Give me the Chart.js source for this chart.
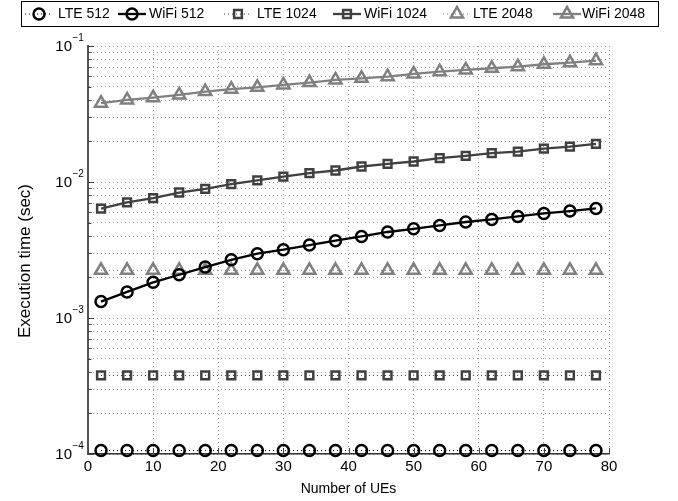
<!DOCTYPE html>
<html>
<head>
<meta charset="utf-8">
<script src="https://cdn.jsdelivr.net/npm/chart.js@4.4.1/dist/chart.umd.min.js"></script>
<style>
  html, body { margin: 0; padding: 0; background: #fff; }
  #wrap { width: 678px; height: 501px; }
</style>
</head>
<body>
<div id="wrap"><canvas id="grafico" width="678" height="501"></canvas></div>
<script>
// numero de UEs (eje x)
var ues = [2, 6, 10, 14, 18, 22, 26, 30, 34, 38, 42, 46, 50, 54, 58, 62, 66, 70, 74, 78];

// tiempos de ejecucion (sec)
var lte512 = [1.06e-4, 1.06e-4, 1.06e-4, 1.06e-4, 1.06e-4, 1.06e-4, 1.06e-4, 1.06e-4, 1.06e-4, 1.06e-4,
              1.06e-4, 1.06e-4, 1.06e-4, 1.06e-4, 1.06e-4, 1.06e-4, 1.06e-4, 1.06e-4, 1.06e-4, 1.06e-4];
var wifi512 = [1.32e-3, 1.555e-3, 1.83e-3, 2.08e-3, 2.37e-3, 2.68e-3, 2.97e-3, 3.18e-3, 3.44e-3, 3.70e-3,
               3.98e-3, 4.29e-3, 4.53e-3, 4.79e-3, 5.08e-3, 5.31e-3, 5.58e-3, 5.87e-3, 6.11e-3, 6.39e-3];
var lte1024 = [3.78e-4, 3.78e-4, 3.78e-4, 3.78e-4, 3.78e-4, 3.78e-4, 3.78e-4, 3.78e-4, 3.78e-4, 3.78e-4,
               3.78e-4, 3.78e-4, 3.78e-4, 3.78e-4, 3.78e-4, 3.78e-4, 3.78e-4, 3.78e-4, 3.78e-4, 3.78e-4];
var wifi1024 = [6.36e-3, 7.07e-3, 7.61e-3, 8.37e-3, 8.91e-3, 9.65e-3, 1.026e-2, 1.097e-2, 1.162e-2, 1.215e-2,
                1.30e-2, 1.36e-2, 1.415e-2, 1.50e-2, 1.556e-2, 1.63e-2, 1.675e-2, 1.76e-2, 1.82e-2, 1.91e-2];
var lte2048 = [2.24e-3, 2.24e-3, 2.24e-3, 2.24e-3, 2.24e-3, 2.24e-3, 2.24e-3, 2.24e-3, 2.24e-3, 2.24e-3,
               2.24e-3, 2.24e-3, 2.24e-3, 2.24e-3, 2.24e-3, 2.24e-3, 2.24e-3, 2.24e-3, 2.24e-3, 2.24e-3];
var wifi2048 = [3.80e-2, 4.01e-2, 4.17e-2, 4.37e-2, 4.62e-2, 4.81e-2, 4.97e-2, 5.17e-2, 5.38e-2, 5.63e-2,
                5.79e-2, 5.95e-2, 6.23e-2, 6.47e-2, 6.67e-2, 6.86e-2, 7.05e-2, 7.34e-2, 7.54e-2, 7.80e-2];

var etiquetas = ['LTE 512', 'WiFi 512', 'LTE 1024', 'WiFi 1024', 'LTE 2048', 'WiFi 2048'];

// etiquetas del eje y (10^exp)
var yTickValues = [1e-4, 1e-3, 1e-2, 1e-1];
var yTickExps = ['\u22124', '\u22123', '\u22122', '\u22121'];
var yMantisas = [1, 2, 3, 4, 5, 6, 7, 8, 9];

var FUENTE = '"Liberation Sans", Arial, Helvetica, sans-serif';

function puntos(serie) {
  return ues.map(function (x, i) { return { x: x, y: serie[i] }; });
}

var estilos = [
  { color: '#000000', estilo: 'circle', radio: 5.5, linea: false },
  { color: '#000000', estilo: 'circle', radio: 5.5, linea: true },
  { color: '#404040', estilo: 'rect', radio: 5.5, linea: false },
  { color: '#404040', estilo: 'rect', radio: 5.5, linea: true },
  { color: '#808080', estilo: 'triangle', radio: 7, linea: false },
  { color: '#808080', estilo: 'triangle', radio: 7, linea: true }
];
var series = [lte512, wifi512, lte1024, wifi1024, lte2048, wifi2048];

var datasets = series.map(function (serie, i) {
  var e = estilos[i];
  return {
    label: etiquetas[i],
    data: puntos(serie),
    borderColor: e.color,
    backgroundColor: 'rgba(0,0,0,0)',
    borderWidth: e.linea ? 2.3 : 1,
    borderDash: e.linea ? [] : [1, 3],
    pointStyle: e.estilo,
    pointRadius: e.radio,
    pointBorderWidth: 2.5,
    pointBorderColor: e.color,
    pointBackgroundColor: 'rgba(0,0,0,0)',
    tension: 0,
    clip: false
  };
});

// leyenda tipo matlab, textos de ejes y marcas hacia dentro
var extras = {
  id: 'extras',
  afterDraw: function (chart) {
    var ctx = chart.ctx;
    var area = chart.chartArea;
    var ys = chart.scales.y;
    var xs = chart.scales.x;

    ctx.save();
    // marcas hacia dentro
    ctx.strokeStyle = '#444';
    ctx.lineWidth = 1;
    ys.ticks.forEach(function (t) {
      var py = Math.round(ys.getPixelForValue(t.value)) + 0.5;
      var mayor = yTickValues.indexOf(t.value) >= 0;
      ctx.beginPath();
      ctx.moveTo(area.left, py);
      ctx.lineTo(area.left + (mayor ? 6 : 3.5), py);
      ctx.stroke();
    });
    xs.ticks.forEach(function (t) {
      var px = Math.round(xs.getPixelForValue(t.value)) + 0.5;
      ctx.beginPath();
      ctx.moveTo(px, area.bottom);
      ctx.lineTo(px, area.bottom - 6);
      ctx.stroke();
    });

    // etiquetas y: 10 con exponente
    ctx.fillStyle = '#000';
    yTickValues.forEach(function (v, i) {
      var py = ys.getPixelForValue(v);
      ctx.font = '15px ' + FUENTE;
      ctx.textAlign = 'right';
      ctx.textBaseline = 'middle';
      ctx.fillText('10', 72, py + 1);
      ctx.font = '10px ' + FUENTE;
      ctx.textAlign = 'left';
      ctx.fillText(yTickExps[i], 72.5, py - 8);
    });

    // titulo y
    ctx.save();
    ctx.translate(25, 261);
    ctx.rotate(-Math.PI / 2);
    ctx.font = '17px ' + FUENTE;
    ctx.textAlign = 'center';
    ctx.textBaseline = 'middle';
    ctx.fillText('Execution time (sec)', 0, 0);
    ctx.restore();

    // leyenda
    ctx.lineWidth = 1;
    ctx.strokeStyle = '#000';
    ctx.setLineDash([]);
    ctx.fillStyle = '#fff';
    ctx.fillRect(21.5, 1.5, 637, 25);
    ctx.strokeRect(21.5, 1.5, 637, 25);
    var centros = [39, 132, 238, 347, 457, 567];
    var inicioTexto = [58, 149, 257, 364, 473, 582];
    var yl = 14;
    etiquetas.forEach(function (txt, i) {
      var e = estilos[i];
      var cx = centros[i];
      ctx.strokeStyle = e.color;
      ctx.lineWidth = e.linea ? 2.3 : 1;
      ctx.setLineDash(e.linea ? [] : [1, 3]);
      ctx.beginPath();
      ctx.moveTo(cx - 14, yl);
      ctx.lineTo(cx + 14, yl);
      ctx.stroke();
      ctx.setLineDash([]);
      ctx.fillStyle = 'rgba(0,0,0,0)';
      ctx.lineWidth = 2.5;
      Chart.helpers.drawPoint(ctx, { pointStyle: e.estilo, radius: e.radio, borderWidth: 2.5, rotation: 0 }, cx, yl);
      ctx.fillStyle = '#000';
      ctx.font = '14px ' + FUENTE;
      ctx.textAlign = 'left';
      ctx.textBaseline = 'middle';
      ctx.fillText(txt, inicioTexto[i], yl + 0.5);
    });
    ctx.restore();
  }
};

new Chart(document.getElementById('grafico'), {
  type: 'line',
  data: { datasets: datasets },
  options: {
    responsive: false,
    animation: false,
    devicePixelRatio: 1,
    layout: { padding: { top: 46, right: 69, left: 0, bottom: 0 } },
    plugins: { legend: { display: false }, tooltip: { enabled: false } },
    scales: {
      x: {
        type: 'linear',
        min: 0,
        max: 80,
        ticks: { stepSize: 10, color: '#000', padding: 4, font: { family: FUENTE, size: 15 } },
        grid: { color: '#9a9a9a', lineWidth: 1, drawTicks: false },
        border: { display: true, color: '#333', width: 1.5, dash: [1, 3] },
        title: { display: true, text: 'Number of UEs', color: '#000', font: { family: FUENTE, size: 14 }, padding: { top: 0, bottom: 3 } },
        afterFit: function (scale) { scale.height = 47; }
      },
      y: {
        type: 'logarithmic',
        min: 1e-4,
        max: 1e-1,
        ticks: { display: false },
        grid: { color: '#9a9a9a', lineWidth: 1, drawTicks: false },
        border: { display: true, color: '#555', width: 2, dash: [1, 3] },
        afterBuildTicks: function (scale) {
          var t = [];
          yTickValues.forEach(function (d, k) {
            if (k === yTickValues.length - 1) { t.push({ value: d }); return; }
            yMantisas.forEach(function (m) { t.push({ value: m * d }); });
          });
          scale.ticks = t;
        },
        afterFit: function (scale) { scale.width = 88; }
      }
    }
  },
  plugins: [extras]
});
</script>
</body>
</html>
